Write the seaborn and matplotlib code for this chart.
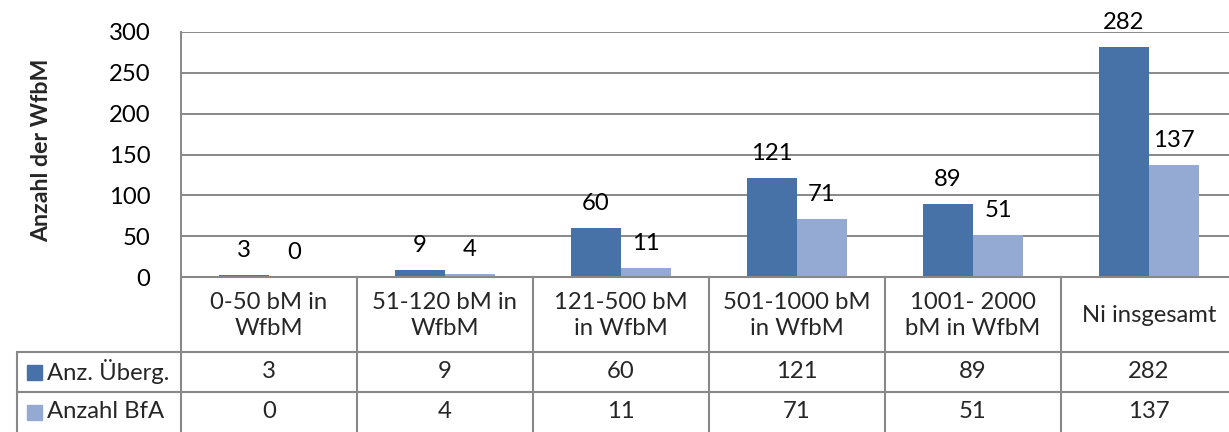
import matplotlib
matplotlib.use("Agg")
import matplotlib.pyplot as plt
import seaborn as sns
import pandas as pd

categories = ["0-50 bM in\nWfbM", "51-120 bM in\nWfbM", "121-500 bM\nin WfbM",
              "501-1000 bM\nin WfbM", "1001- 2000\nbM in WfbM", "Ni insgesamt"]
series_names = ["Anz. Überg.", "Anzahl BfA"]
anz_uebergaenge = [3, 9, 60, 121, 89, 282]
anzahl_bfa = [0, 4, 11, 71, 51, 137]
y_ticks = [0, 50, 100, 150, 200, 250, 300]

dark = "#4672A8"
light = "#95AAD3"
grid_col = "#888888"

sns.set_theme(style="white")
plt.rcParams['font.family'] = ['Lato', 'DejaVu Sans']
FS = 17.2

df = pd.DataFrame({
    "cat": categories * 2,
    "val": anz_uebergaenge + anzahl_bfa,
    "series": [series_names[0]] * 6 + [series_names[1]] * 6,
})

W, H = 1229, 432
fig = plt.figure(figsize=(W / 100, H / 100), dpi=100)
left_px, right_px, top_px, zero_px = 181, 1237, 32, 277
ax = fig.add_axes([left_px / W, (H - zero_px) / H, (right_px - left_px) / W, (zero_px - top_px) / H])

sns.barplot(data=df, x="cat", y="val", hue="series", palette=[dark, light],
            width=0.57, gap=0, ax=ax, legend=False, saturation=1, edgecolor="none")
ax.set_ylim(0, 300)
ax.set_xlim(-0.5, 5.5)
ax.set_yticks(y_ticks)
ax.set_yticklabels([str(t) for t in y_ticks], fontsize=FS, color="black")
ax.tick_params(axis="y", length=0, pad=22)
ax.set_xticks([])
ax.set_xlabel("")
ax.set_ylabel("")
ax.yaxis.grid(True, color=grid_col, linewidth=1.4)
ax.set_axisbelow(True)
for s in ["top", "right", "bottom"]:
    ax.spines[s].set_visible(False)
ax.spines["left"].set_color(grid_col)
ax.spines["left"].set_linewidth(1.4)
for cont in ax.containers:
    ax.bar_label(cont, padding=10, fontsize=FS, color="black")

fig.text(42 / W, 1 - 150 / H, "Anzahl der WfbM", rotation=90, ha="center", va="center",
         fontsize=FS - 0.5, fontweight="bold")

# data table
tax = fig.add_axes([0, 0, 1, 1])
tax.set_xlim(0, W)
tax.set_ylim(H, 0)
tax.axis("off")
cw = (right_px - left_px) / 6
row_y = [zero_px, 352, 392, 432]
lw = 1.5
tax.plot([left_px, right_px], [zero_px, zero_px], color=grid_col, lw=lw)
tax.plot([17, right_px], [row_y[1], row_y[1]], color=grid_col, lw=lw)
tax.plot([17, right_px], [row_y[2], row_y[2]], color=grid_col, lw=lw)
tax.plot([17, 17], [row_y[1], H], color=grid_col, lw=lw)
for i in range(7):
    x = left_px + i * cw
    tax.plot([x, x], [zero_px, H], color=grid_col, lw=lw)
for i, c in enumerate(categories):
    xc = left_px + (i + 0.5) * cw
    tax.text(xc, (row_y[0] + row_y[1]) / 2 + 1, c, ha="center", va="center", fontsize=FS,
             linespacing=1.3)
for r, (name, vals, col) in enumerate([(series_names[0], anz_uebergaenge, dark),
                                        (series_names[1], anzahl_bfa, light)]):
    yc = (row_y[r + 1] + row_y[r + 2]) / 2
    tax.add_patch(plt.Rectangle((27, yc - 7.5), 15, 15, color=col))
    tax.text(47, yc, name, ha="left", va="center", fontsize=FS)
    for i, v in enumerate(vals):
        tax.text(left_px + (i + 0.5) * cw, yc, str(v), ha="center", va="center", fontsize=FS)

fig.savefig("out.png", dpi=100)
